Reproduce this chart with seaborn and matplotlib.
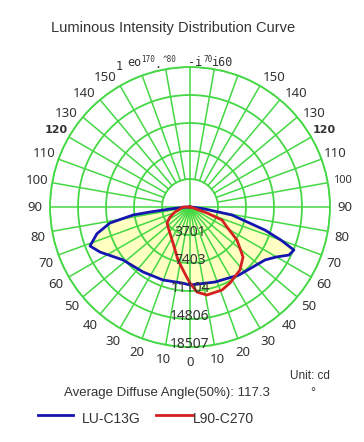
import numpy as np
import matplotlib
matplotlib.use("Agg")
import matplotlib.pyplot as plt
import seaborn as sns

# C0-C180 plane (blue): angle from nadir (deg) -> intensity (cd)
blue_right_angle = [0, 18.4, 35.8, 54.8, 60, 64.1, 67.5, 70, 72.9, 79.2, 82.4, 86, 90]
blue_right_cd = [10310, 10450, 11080, 12140, 13200, 14540, 14870, 12800, 10370, 5650, 2000, 500, 0]
blue_left_angle = [0, 6, 20.3, 35.9, 51.7, 63.4, 68.7, 74, 78.7, 82, 82.9, 84.3, 88, 90]
blue_left_cd = [10310, 10100, 10290, 10600, 11290, 13300, 14190, 12800, 10790, 7610, 5330, 2660, 600, 0]

# C90-C270 plane (red)
red_right_angle = [0, 4.7, 10.9, 21.1, 27.8, 38.4, 46.7, 54.9, 61.6, 67.9, 70.6, 80, 90]
red_right_cd = [10050, 11280, 11850, 11760, 11350, 10630, 9630, 7590, 5560, 4570, 2380, 200, 0]
red_left_angle = [0, 3, 6.3, 12.8, 25.3, 47.7, 55, 63.4, 71.6, 90, 100]
red_left_cd = [10050, 9200, 8380, 7180, 5260, 3930, 3700, 2960, 2090, 925, 0]

ring_values = [3701, 7403, 11104, 14806, 18507]
angle_labels = list(range(0, 160, 10))

GREEN = "#44d844"
TXT = "#333333"


def closed_curve(left_a, left_v, right_a, right_v):
    th = [-np.deg2rad(a) for a in left_a[::-1]] + [np.deg2rad(a) for a in right_a[1:]]
    r = list(left_v[::-1]) + list(right_v[1:])
    return np.array(th), np.array(r)


fig = plt.figure(figsize=(3.64, 4.42), dpi=100)
ax = fig.add_axes([0.1374, 0.2149, 0.7692, 0.6335], projection="polar")
ax.set_theta_zero_location("S")
ax.set_theta_direction(1)
ax.grid(False)
ax.set_xticks([])
ax.set_yticks([])
ax.spines["polar"].set_color(GREEN)
ax.spines["polar"].set_linewidth(1.3)

# fills under the grid
tb, rb = closed_curve(blue_left_angle, blue_left_cd, blue_right_angle, blue_right_cd)
tr, rr = closed_curve(red_left_angle, red_left_cd, red_right_angle, red_right_cd)
ax.fill(tb, rb, color="#ffffc2", zorder=1, lw=0)
ax.fill(tr, rr, color="#ffffc2", zorder=1, lw=0)

# grid: rings and spokes
circ = np.linspace(0, 2 * np.pi, 361)
for v in ring_values:
    ax.plot(circ, [v] * len(circ), color=GREEN, lw=1.3, zorder=2)
for a in range(0, 360, 10):
    start = 0 if (a < 90 or a > 270 or a % 90 == 0) else ring_values[0]
    ax.plot([np.deg2rad(a)] * 2, [start, ring_values[-1]], color=GREEN, lw=1.1, zorder=2)

# curves
sns.lineplot(x=tb, y=rb, sort=False, estimator=None, ax=ax, color="#1515b0", lw=2.0, zorder=3)
sns.lineplot(x=tr, y=rr, sort=False, estimator=None, ax=ax, color="#d42020", lw=2.0, zorder=3)
ax.set_ylim(0, ring_values[-1])
ax.set_xlabel("")
ax.set_ylabel("")

# ring value labels along the nadir
for v in ring_values:
    ax.text(0, v + 150, str(v), ha="center", va="baseline", fontsize=10,
            color=TXT, family="Noto Sans", zorder=4)

# angle labels on both sides
R = ring_values[-1] * 155 / 140
for a in angle_labels:
    shift = 3 if a >= 130 else (1.5 if a in (70, 80) else 0)
    if a == 120:
        style = dict(fontsize=8, fontweight="bold", family="DejaVu Sans")
    else:
        style = dict(fontsize=9.5, family="Noto Sans")
    ax.text(-np.deg2rad(a - shift), R, str(a), ha="center", va="center",
            color=TXT, clip_on=False, **style)
    if a == 0:
        continue
    if a == 100:
        style = dict(fontsize=8, family="Noto Sans")
    ax.text(np.deg2rad(a - shift), R, str(a), ha="center", va="center",
            color=TXT, clip_on=False, **style)


def ftext(x, y, s, **kw):
    fig.text(x / 364, 1 - y / 442, s, **kw)


# overlapped top labels as they appear
mono = dict(family="DejaVu Sans Mono", color=TXT, ha="center", va="center")
ftext(119, 66, "1", fontsize=8.5, **mono)
ftext(134, 63, "eo", fontsize=8.5, **mono)
ftext(148, 60, "170", fontsize=5.5, **mono)
ftext(158, 64, ".", fontsize=8.5, **mono)
ftext(170, 60, "^80", fontsize=5.5, **mono)
ftext(195, 63, "-i", fontsize=8.5, **mono)
ftext(208, 60, "70", fontsize=5.5, **mono)
ftext(223, 63, "i60", fontsize=8.5, **mono)

sans = dict(family="Liberation Sans", color=TXT, va="center")
ftext(173, 28, "Luminous Intensity Distribution Curve", fontsize=10.5, ha="center", **sans)
ftext(167, 393, "Average Diffuse Angle(50%): 117.3", fontsize=9.5, ha="center", **sans)
ftext(310, 376, "Unit: cd", fontsize=8.5, ha="center", **sans)
ftext(313, 393, "°", fontsize=9, ha="center", **sans)

# legend
fig.add_artist(plt.Line2D([38 / 364, 73 / 364], [1 - 415 / 442] * 2, color="#1515b0", lw=2))
fig.add_artist(plt.Line2D([156 / 364, 193 / 364], [1 - 415 / 442] * 2, color="#d42020", lw=2))
ftext(82, 419, "LU-C13G", fontsize=10, ha="left", **sans)
ftext(193, 419, "L90-C270", fontsize=10, ha="left", **sans)

fig.savefig("out.png", dpi=100, facecolor="white")
